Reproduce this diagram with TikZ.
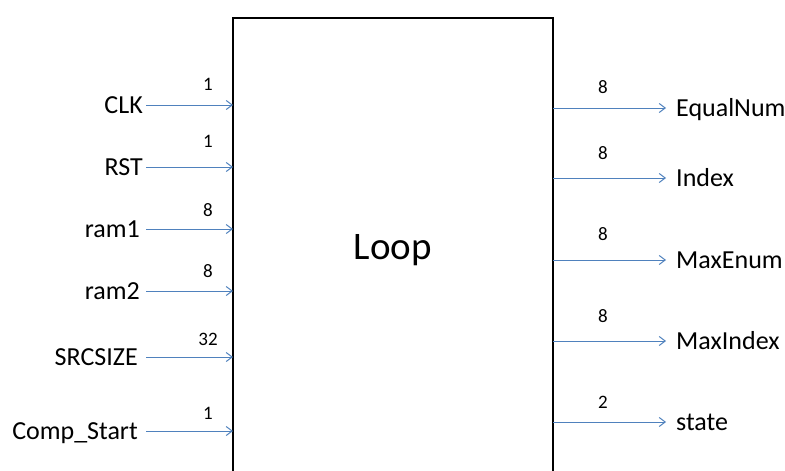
\documentclass[tikz,border=0pt]{standalone}
\usepackage{fontspec}
\setmainfont{Carlito}
\usetikzlibrary{arrows.meta}
\definecolor{wire}{RGB}{79,129,189}
\tikzset{
  block/.style={draw=black, line width=2pt},
  sig/.style={draw=wire, line width=1pt, -{Straight Barb[length=6pt,width=9pt,line width=1pt]}},
  pinlabel/.style={inner sep=0pt, font=\fontsize{26}{30}\selectfont},
  buswidth/.style={inner sep=0pt, anchor=base, font=\fontsize{19}{22}\selectfont},
  title/.style={inner sep=0pt, font=\fontsize{39}{46}\selectfont}
}
\begin{document}
\begin{tikzpicture}[x=1pt,y=-1pt]
  \useasboundingbox (0,0) rectangle (785,471);
  \begin{scope}
    \clip (0,0) rectangle (785,471);
    % module body, running past the lower edge
    \draw[block] (233,18) -- (553,18) -- (553,490) -- (233,490) -- cycle;
  \end{scope}
  \node[title] (loop) at (393,250) {Loop};

  % inputs
  \foreach \name/\txt/\y/\lx/\w/\wy in {
      clk/CLK/105/143/1/90, rst/RST/167/143/1/147, ramA/ram1/229/140/8/216,
      ramB/ram2/291/140/8/277, src/SRCSIZE/357/138/32/345, cs/Comp\_Start/431/138/1/419} {
    \coordinate (\name-s) at (146,\y);
    \coordinate (\name-e) at (233,\y);
    \node[pinlabel, anchor=base east] (\name) at (\lx,\y+8) {\txt};
    \node[buswidth] (\name-w) at (208,\wy) {\w};
    \draw[sig] (\name-s) -- (\name-e);
  }

  % outputs
  \foreach \name/\txt/\y/\w/\wy in {
      eq/EqualNum/108/8/93, idx/Index/178/8/159, me/MaxEnum/260/8/240,
      mi/MaxIndex/341/8/322, st/state/422/2/408} {
    \coordinate (\name-s) at (553,\y);
    \coordinate (\name-e) at (666,\y);
    \node[pinlabel, anchor=base west] (\name) at (676,\y+8) {\txt};
    \node[buswidth] (\name-w) at (603,\wy) {\w};
    \draw[sig] (\name-s) -- (\name-e);
  }
\end{tikzpicture}
\end{document}
